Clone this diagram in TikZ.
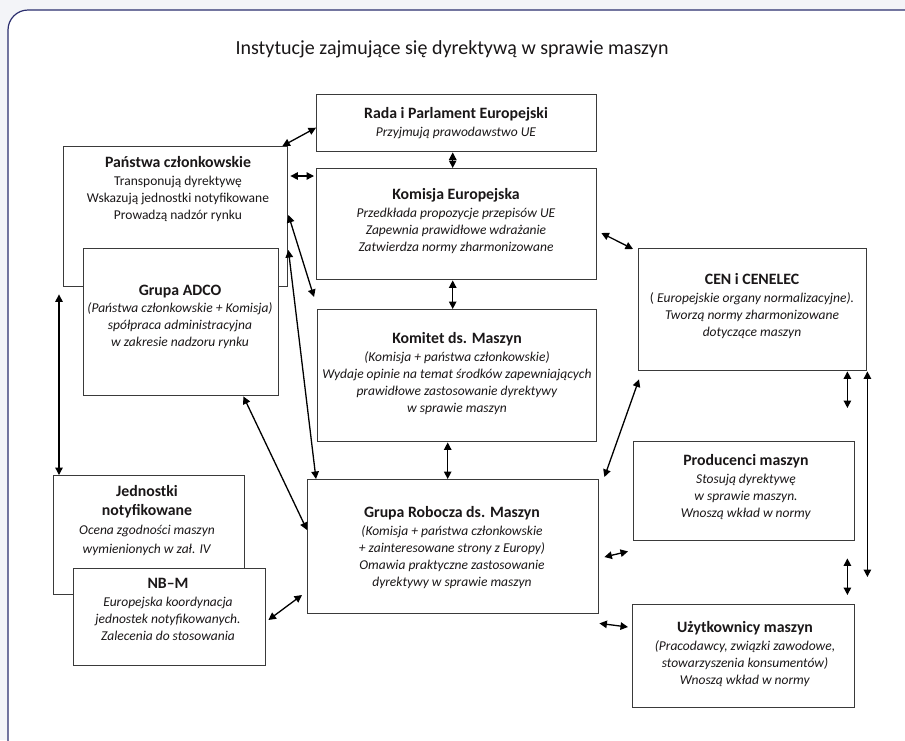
\documentclass[tikz,border=0pt]{standalone}
\usepackage{fontspec}
\setmainfont{Carlito}
\usetikzlibrary{arrows.meta}
\definecolor{framecol}{HTML}{2B2E6E}
\definecolor{boxcol}{HTML}{3A3A3A}
\definecolor{txtcol}{HTML}{1A1718}
\definecolor{outbg}{HTML}{F3F4F8}
\newcommand\hdline[1]{{\fontsize{15.8}{17.3}\selectfont\bfseries #1}}
\begin{document}
\begin{tikzpicture}[x=1pt,y=-1pt,
  box/.style={draw=boxcol,line width=1.4pt,fill=white,inner sep=0pt,anchor=north west},
  txt/.style={align=center,inner sep=0pt,anchor=north,text=txtcol,font=\fontsize{13.5}{17.3}\selectfont},
  conn/.style={{Triangle[length=7.5pt,width=7.5pt]}-{Triangle[length=7.5pt,width=7.5pt]},line width=1.3pt,draw=black}]
\useasboundingbox (0,0) rectangle (905,740);
\clip (0,0) rectangle (905,740);
\fill[outbg] (0,0) rectangle (905,740);
\draw[framecol,line width=1.2pt,fill=white,rounded corners=20pt] (8,10) rectangle (925,760);

\node[txt,anchor=base,font=\fontsize{20}{24}\selectfont] (title) at (452,54) {Instytucje zajmujące się dyrektywą w sprawie maszyn};

% boxes
\node[box,minimum width=280pt,minimum height=57pt] (rada) at (316,94) {};
\node[box,minimum width=280pt,minimum height=111pt] (kom) at (316,168) {};
\node[box,minimum width=224pt,minimum height=140pt] (pan) at (63,146) {};
\node[box,minimum width=195pt,minimum height=147pt] (adco) at (83,248) {};
\node[box,minimum width=279pt,minimum height=132pt] (komi) at (317,309) {};
\node[box,minimum width=291pt,minimum height=134pt] (wg) at (307,479) {};
\node[box,minimum width=228pt,minimum height=122pt] (cen) at (638,248) {};
\node[box,minimum width=221pt,minimum height=99pt] (prod) at (633,441) {};
\node[box,minimum width=222pt,minimum height=103pt] (uzyt) at (632,604) {};
\node[box,minimum width=191pt,minimum height=119pt] (jedn) at (53,475) {};
\node[box,minimum width=192pt,minimum height=97pt] (nbm) at (73,568) {};

% texts
\node[txt] (rada-t) at (456,107.5) {\hdline{Rada i Parlament Europejski}\\\textit{Przyjmują prawodawstwo UE}};
\node[txt] (pan-t) at (178,156.5) {\hdline{Państwa członkowskie}\\Transponują dyrektywę\\Wskazują jednostki notyfikowane\\Prowadzą nadzór rynku};
\node[txt] (kom-t) at (456,188.5) {\hdline{Komisja Europejska}\\\textit{Przedkłada propozycje przepisów UE}\\\textit{Zapewnia prawidłowe wdrażanie}\\\textit{Zatwierdza normy zharmonizowane}};
\node[txt] (adco-t) at (180,284.5) {\hdline{Grupa ADCO}\\\textit{(Państwa członkowskie + Komisja)}\\\textit{spółpraca administracyjna}\\\textit{w zakresie nadzoru rynku}};
\node[txt] (komi-t) at (457,332.5) {\hdline{Komitet ds. Maszyn}\\\textit{(Komisja + państwa członkowskie)}\\\textit{Wydaje opinie na temat środków zapewniających}\\\textit{prawidłowe zastosowanie dyrektywy}\\\textit{w sprawie maszyn}};
\node[txt] (wg-t) at (452,506.5) {\hdline{Grupa Robocza ds. Maszyn}\\\textit{(Komisja + państwa członkowskie}\\\textit{+ zainteresowane strony z Europy)}\\\textit{Omawia praktyczne zastosowanie}\\\textit{dyrektywy w sprawie maszyn}};
\node[txt] (cen-t) at (752,273.5) {\hdline{CEN i CENELEC}\\( \textit{Europejskie organy normalizacyjne).}\\\textit{Tworzą normy zharmonizowane}\\\textit{dotyczące maszyn}};
\node[txt] (prod-t) at (746,454.5) {\hdline{Producenci maszyn}\\\textit{Stosują dyrektywę}\\\textit{w sprawie maszyn.}\\\textit{Wnoszą wkład w normy}};
\node[txt] (uzyt-t) at (745,621.5) {\hdline{Użytkownicy maszyn}\\\textit{(Pracodawcy, związki zawodowe,}\\\textit{stowarzyszenia konsumentów)}\\\textit{Wnoszą wkład w normy}};
\node[txt,font=\fontsize{13.5}{19}\selectfont] (jedn-t) at (147,485.5) {\hdline{Jednostki}\\\hdline{notyfikowane}\\\textit{Ocena zgodności maszyn}\\\textit{wymienionych w zał. IV}};
\node[txt] (nbm-t) at (168,578.5) {\hdline{NB–M}\\\textit{Europejska koordynacja}\\\textit{jednostek notyfikowanych.}\\\textit{Zalecenia do stosowania}};

% connectors
\draw[conn] ([xshift=-6pt]pan.north east) -- ([yshift=-4.5pt]rada.west);
\draw[conn] ([xshift=2pt,yshift=-30pt]pan.north east) -- ([xshift=-2pt,yshift=-8pt]kom.north west);
\draw[conn] ([xshift=-4pt]rada.south) -- ([xshift=-4pt]kom.north);
\draw[conn] ([yshift=-69pt]pan.north east) -- ([xshift=-3pt,yshift=12pt]komi.north west);
\draw[conn] ([yshift=-104pt]pan.north east) -- ([xshift=9pt]wg.north west);
\draw[conn] ([xshift=-36pt]adco.south east) -- ([yshift=-51pt]wg.north west);
\draw[conn] ([xshift=-4pt,yshift=-7pt]pan.south west) -- ([xshift=6pt]jedn.north west);
\draw[conn] ([xshift=2pt,yshift=-52pt]nbm.north east) -- ([xshift=-5pt,yshift=-116pt]wg.north west);
\draw[conn] ([xshift=-4pt]kom.south) -- ([xshift=-4.5pt]komi.north);
\draw[conn] ([xshift=-9.5pt]komi.south) -- ([xshift=-5.5pt]wg.north);
\draw[conn] ([xshift=4pt,yshift=-65pt]kom.north east) -- ([xshift=-5pt,yshift=-1pt]cen.north west);
\draw[conn] ([xshift=1pt,yshift=-8pt]cen.south west) -- ([xshift=5pt,yshift=2pt]wg.north east);
\draw[conn] ([xshift=5pt,yshift=-78pt]wg.north east) -- ([xshift=-5pt,yshift=-10pt]prod.south west);
\draw[conn] ([yshift=-9pt]wg.south east) -- ([xshift=-4pt,yshift=-23pt]uzyt.north west);
\draw[conn] ([xshift=-20pt]cen.south east) -- ([xshift=-8pt,yshift=33pt]prod.north east);
\draw[conn] ([xshift=-8pt,yshift=-17pt]prod.south east) -- ([xshift=-8pt,yshift=9pt]uzyt.north east);
\draw[conn] (cen.south east) -- ([xshift=12pt,yshift=27pt]uzyt.north east);
\end{tikzpicture}
\end{document}
